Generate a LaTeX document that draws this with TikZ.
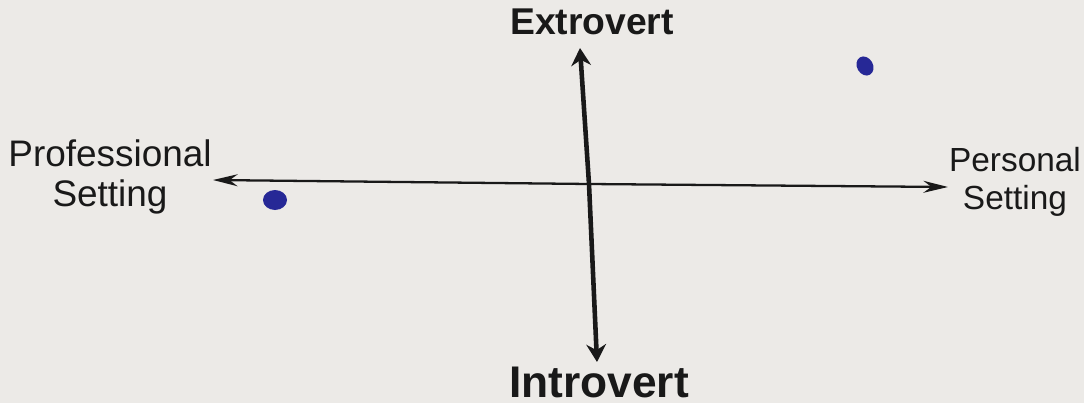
\documentclass[tikz,border=0pt]{standalone}
\usepackage{fontspec}
\setmainfont{Liberation Sans}
\usetikzlibrary{arrows.meta, positioning}
\definecolor{paper}{RGB}{236,234,231}
\definecolor{ink}{RGB}{38,40,150}
\tikzset{
  haxis/.style={draw=black!90, line width=0.65pt, -{Stealth[length=7pt, width=3.4pt]}},
  vaxis/.style={draw=black!90, line width=1.3pt, -{Stealth[length=5pt, width=5.6pt]}},
  lbl/.style={align=center, inner sep=0pt, text=black!90},
  blob/.style={fill=ink, draw=none},
}

\begin{document}
\begin{tikzpicture}[x=0.01cm, y=-0.01cm, line join=round, line cap=round]
      \fill[paper] (0,0) rectangle (1084,403);
      \useasboundingbox (0,0) rectangle (1084,403);
      % axis end points
      \coordinate (origin) at (589,184);
      \coordinate (left) at (213,180);
      \coordinate (right) at (948,187);
      \coordinate (top) at (580,48);
      \coordinate (bottom) at (597,362);
      \draw[haxis] (origin) -- (left);
      \draw[haxis] (origin) -- (right);
      \draw[vaxis] (origin) -- (top);
      \draw[vaxis] (origin) -- (bottom);
      % labels
      \node[lbl, font=\bfseries\fontsize{10.6}{13}\selectfont] (extro) at (592,22) {Extrovert};
      \node[lbl, font=\bfseries\fontsize{12.6}{15}\selectfont] (intro) at (599,382) {Introvert};
      \node[lbl, font=\fontsize{10.5}{11.5}\selectfont] (prof) at (110,177) {Professional\\Setting};
      \node[lbl, font=\fontsize{9.5}{11}\selectfont] (pers) at (1015,182) {Personal\\Setting};
      % marks
      \fill[blob] (275,200) ellipse [x radius=12, y radius=10];
      \fill[blob, rotate around={30:(865,66)}] (865,66) ellipse [x radius=8, y radius=10];
    \end{tikzpicture}
\end{document}
